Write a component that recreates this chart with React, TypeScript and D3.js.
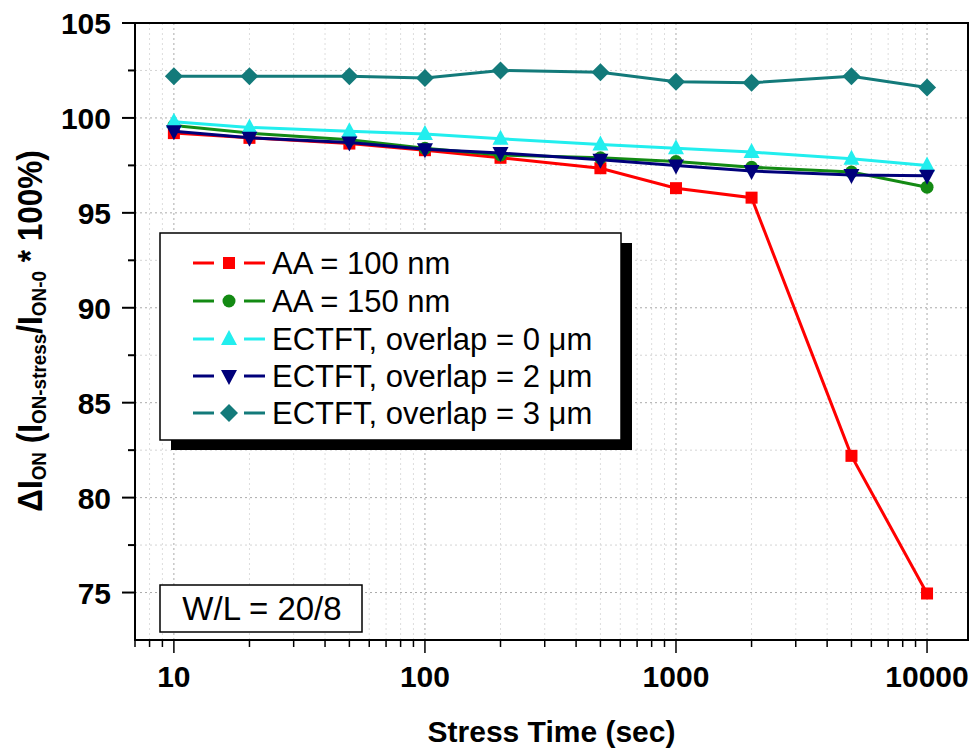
import React from "react";
import * as d3 from "d3";

const times = [10, 20, 50, 100, 200, 500, 1000, 2000, 5000, 10000];
const aa100 = [99.2, 98.95, 98.65, 98.3, 97.9, 97.35, 96.3, 95.8, 82.2, 74.95];
const aa150 = [99.6, 99.2, 98.85, 98.4, 98.05, 97.9, 97.7, 97.4, 97.15, 96.35];
const ov0 = [99.8, 99.5, 99.3, 99.15, 98.9, 98.6, 98.4, 98.2, 97.85, 97.5];
const ov2 = [99.3, 98.95, 98.7, 98.35, 98.15, 97.8, 97.5, 97.2, 97.0, 96.95];
const ov3 = [102.2, 102.2, 102.2, 102.1, 102.5, 102.4, 101.9, 101.85, 102.2, 101.6];

const seriesNames = [
  "AA = 100 nm",
  "AA = 150 nm",
  "ECTFT, overlap = 0 \u03bcm",
  "ECTFT, overlap = 2 \u03bcm",
  "ECTFT, overlap = 3 \u03bcm",
];
const seriesValues = [aa100, aa150, ov0, ov2, ov3];
const seriesColors = ["#ff0000", "#138a13", "#22eeee", "#00007a", "#137a7a"];
const seriesMarkers = ["square", "circle", "triangle", "triangleDown", "diamond"];

const xTicks = [10, 100, 1000, 10000];
const yTicks = [75, 80, 85, 90, 95, 100, 105];

const W = 973;
const H = 751;
const left = 135, right = 968, top = 23, bottom = 640;

const x = d3.scaleLog().domain([7, 14560]).range([left, right]);
const y = d3.scaleLinear().domain([72.5, 105]).range([bottom, top]);

function Marker({ kind, cx, cy, color }: { kind: string; cx: number; cy: number; color: string }) {
  if (kind === "square") return <rect x={cx - 6} y={cy - 6} width={12} height={12} fill={color} />;
  if (kind === "circle") return <circle cx={cx} cy={cy} r={6.5} fill={color} />;
  if (kind === "triangle")
    return <path d={`M${cx},${cy - 9} L${cx + 8},${cy + 6} L${cx - 8},${cy + 6} Z`} fill={color} />;
  if (kind === "triangleDown")
    return <path d={`M${cx},${cy + 9} L${cx + 8},${cy - 6} L${cx - 8},${cy - 6} Z`} fill={color} />;
  return <path d={`M${cx},${cy - 9} L${cx + 9},${cy} L${cx},${cy + 9} L${cx - 9},${cy} Z`} fill={color} />;
}

export default function App() {
  const line = d3
    .line<[number, number]>()
    .x((d) => x(d[0]))
    .y((d) => y(d[1]));

  const minorX: number[] = [];
  for (let dec = 1; dec <= 10000; dec *= 10) {
    for (let k = 1; k <= 9; k++) {
      const v = dec * k;
      if (v >= 7 && v <= 14560) minorX.push(v);
    }
  }
  const minorY = d3.range(72.5, 105.01, 2.5);

  const legX = 160, legY = 233, legW = 461, legH = 207;
  const rowYs = [263, 301, 339, 376, 413];

  return (
    <svg width={W} height={H} style={{ position: "absolute", left: 0, top: 0, background: "#fff" }}
      fontFamily="'Liberation Sans', Arial, sans-serif">
      <rect x={0} y={0} width={W} height={H} fill="#fff" />
      {/* grid */}
      <g strokeWidth={1} strokeDasharray="2,3">
        {minorX.filter((v) => v > 7).map((v, i) => (
          <line key={"gx" + i} x1={x(v)} x2={x(v)} y1={top} y2={bottom}
            stroke={xTicks.includes(v) ? "#aaaaaa" : "#dddddd"} />
        ))}
        {minorY.filter((v) => v > 72.5 && v < 105).map((v, i) => (
          <line key={"gy" + i} x1={left} x2={right} y1={y(v)} y2={y(v)}
            stroke={v % 5 === 0 ? "#aaaaaa" : "#d4d4d4"} />
        ))}
      </g>
      {/* frame */}
      <rect x={left} y={top} width={right - left} height={bottom - top} fill="none" stroke="#000" strokeWidth={2} />
      {/* y ticks */}
      {yTicks.map((v) => (
        <g key={"yt" + v}>
          <line x1={left - 13} x2={left} y1={y(v)} y2={y(v)} stroke="#000" strokeWidth={2} />
          <text x={111} y={y(v) + 11} textAnchor="end" fontSize={30} fontWeight="bold">{v}</text>
        </g>
      ))}
      {minorY.filter((v) => v % 5 !== 0 && v > 72.5).map((v) => (
        <line key={"ym" + v} x1={left - 7} x2={left} y1={y(v)} y2={y(v)} stroke="#000" strokeWidth={2} />
      ))}
      {/* x ticks */}
      {minorX.map((v, i) => (
        <line key={"xm" + i} x1={x(v)} x2={x(v)} y1={bottom} y2={bottom + (xTicks.includes(v) ? 13 : 7)}
          stroke="#000" strokeWidth={1.5} />
      ))}
      {xTicks.map((v) => (
        <text key={"xt" + v} x={x(v)} y={687} textAnchor="middle" fontSize={30} fontWeight="bold">{v}</text>
      ))}
      {/* axis titles */}
      <text x={(left + right) / 2} y={742} textAnchor="middle" fontSize={30} fontWeight="bold">Stress Time (sec)</text>
      <text transform="translate(42,331) rotate(-90) scale(0.9,1)" textAnchor="middle" fontSize={35} fontWeight="bold">
        <tspan>{"\u0394I"}</tspan>
        <tspan fontSize={21} dy={4}>ON</tspan>
        <tspan dy={-4}>{" (I"}</tspan>
        <tspan fontSize={21} dy={4}>ON-stress</tspan>
        <tspan dy={-4}>/I</tspan>
        <tspan fontSize={21} dy={4}>ON-0</tspan>
        <tspan dy={-4}>{" * 100%)"}</tspan>
      </text>
      {/* series */}
      {seriesValues.map((vals, si) => {
        const pts = times.map((t, i) => [t, vals[i]] as [number, number]);
        return (
          <g key={"s" + si}>
            <path d={line(pts) || ""} fill="none" stroke={seriesColors[si]} strokeWidth={3} />
            {pts.map((p, i) => (
              <Marker key={i} kind={seriesMarkers[si]} cx={x(p[0])} cy={y(p[1])} color={seriesColors[si]} />
            ))}
          </g>
        );
      })}
      {/* legend */}
      <rect x={legX + 11} y={legY + 10} width={legW} height={legH} fill="#000" />
      <rect x={legX} y={legY} width={legW} height={legH} fill="#fff" stroke="#000" strokeWidth={1.5} />
      {seriesNames.map((name, i) => (
        <g key={"lg" + i}>
          <line x1={193} x2={214} y1={rowYs[i]} y2={rowYs[i]} stroke={seriesColors[i]} strokeWidth={3} />
          <line x1={244} x2={265} y1={rowYs[i]} y2={rowYs[i]} stroke={seriesColors[i]} strokeWidth={3} />
          <Marker kind={seriesMarkers[i]} cx={229} cy={rowYs[i]} color={seriesColors[i]} />
          <text x={272} y={rowYs[i] + 11} fontSize={31}>{name}</text>
        </g>
      ))}
      {/* W/L box */}
      <rect x={160} y={585} width={202} height={47} fill="#fff" stroke="#000" strokeWidth={1.5} />
      <text x={262} y={620} textAnchor="middle" fontSize={33}>W/L = 20/8</text>
    </svg>
  );
}
